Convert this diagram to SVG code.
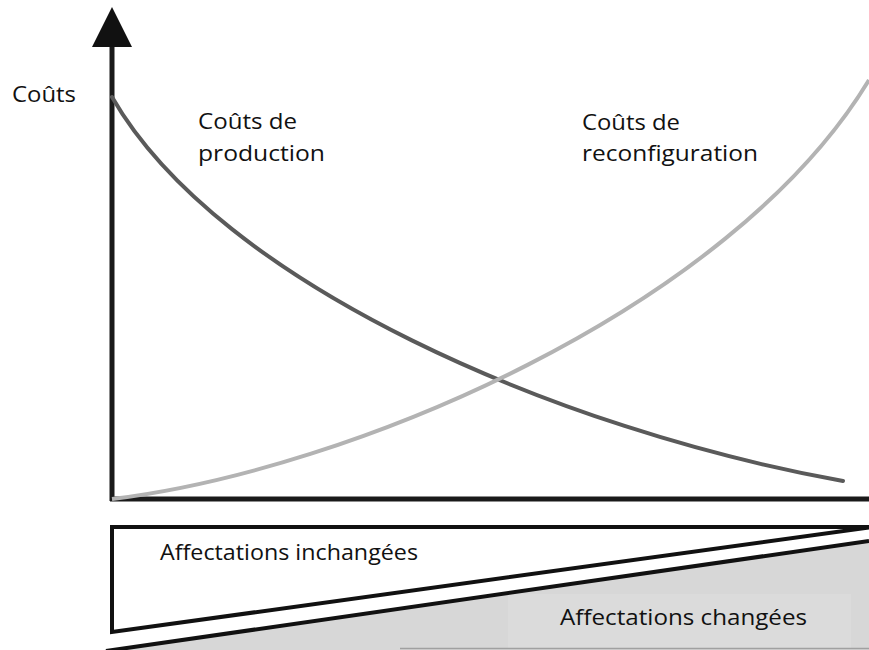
<svg xmlns="http://www.w3.org/2000/svg" width="869" height="650" viewBox="0 0 869 650">
<style>
.t{font-family:"Open Sans","Liberation Sans",sans-serif;font-size:22px;fill:#111;}
.ax{stroke:#1a1a1a;stroke-width:5;fill:none;}
.bx{stroke:#111;stroke-width:4;fill:none;}
</style>
<rect width="869" height="650" fill="#fff"/>
<g id="changed-area">
<polygon points="108,650 869,541 869,650" fill="#d7d7d7"/>
<rect x="508" y="594" width="343" height="54" fill="#dbdbdb"/>
<line x1="400" y1="648.5" x2="869" y2="648.5" stroke="#a0a0a0" stroke-width="1.5"/>
</g>
<g id="axes">
<line class="ax" x1="112" y1="40" x2="112" y2="501"/>
<line class="ax" x1="110" y1="499" x2="869" y2="499"/>
<polygon points="112,7 132,47 92,47" fill="#111"/>
</g>
<g id="curves">
<path id="production" d="M112,97 C220,285 560,430 843,481" fill="none" stroke="#5a5a5a" stroke-width="4" stroke-linecap="round"/>
<path id="reconfiguration" d="M112,499 C350,470 730,310 869,80" fill="none" stroke="#b3b3b3" stroke-width="4"/>
</g>
<g id="allocation-bar">
<path class="bx" d="M869,527 L112,527 L112,632 L869,527.5"/>
<line class="bx" x1="106" y1="651" x2="869" y2="541"/>
</g>
<g id="labels">
<text class="t" x="12" y="102" textLength="64" lengthAdjust="spacingAndGlyphs">Coûts</text>
<text class="t" x="198" y="129" textLength="99" lengthAdjust="spacingAndGlyphs">Coûts de</text>
<text class="t" x="198" y="161" textLength="127" lengthAdjust="spacingAndGlyphs">production</text>
<text class="t" x="582" y="130" textLength="98" lengthAdjust="spacingAndGlyphs">Coûts de</text>
<text class="t" x="582" y="161" textLength="176" lengthAdjust="spacingAndGlyphs">reconfiguration</text>
<text class="t" x="160" y="560" textLength="258" lengthAdjust="spacingAndGlyphs">Affectations inchangées</text>
<text class="t" x="560" y="625" textLength="247" lengthAdjust="spacingAndGlyphs">Affectations changées</text>
</g>
</svg>
